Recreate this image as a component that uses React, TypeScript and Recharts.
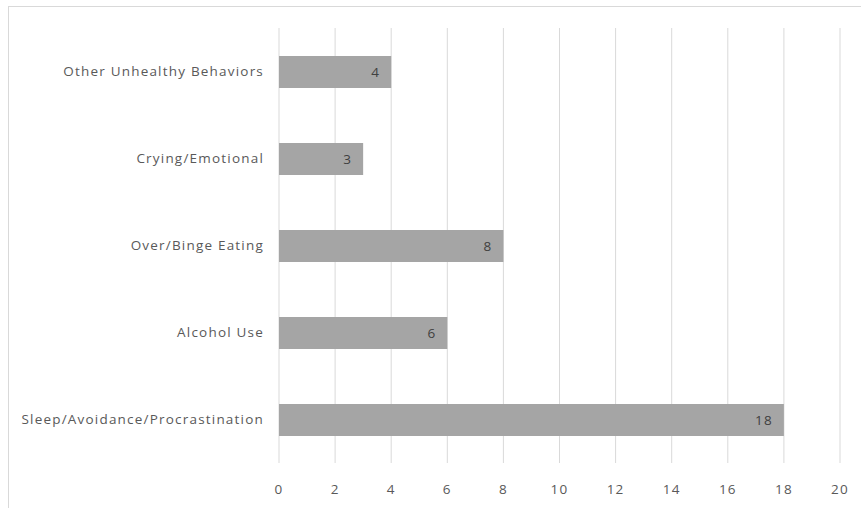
import React from "react";
import { BarChart, Bar, XAxis, YAxis, CartesianGrid, LabelList } from "recharts";

const categories = [
  "Other Unhealthy Behaviors",
  "Crying/Emotional",
  "Over/Binge Eating",
  "Alcohol Use",
  "Sleep/Avoidance/Procrastination",
];
const counts = [4, 3, 8, 6, 18];
const xTicks = [0, 2, 4, 6, 8, 10, 12, 14, 16, 18, 20];

const data = categories.map((name, i) => ({ name, value: counts[i] }));

const FONT = "'Open Sans', Lato, sans-serif";
const textStyle = { letterSpacing: "1.2px" };

export default function App() {
  return (
    <div
      style={{
        position: "absolute",
        left: 8,
        top: 6,
        width: 860,
        height: 510,
        border: "1px solid #d9d9d9",
        boxSizing: "border-box",
        background: "#fff",
        fontFamily: FONT,
      }}
    >
      <BarChart
        width={851}
        height={500}
        data={data}
        layout="vertical"
        margin={{ top: 21, right: 20, bottom: 14, left: 0 }}
      >
        <CartesianGrid horizontal={false} stroke="#d9d9d9" strokeWidth={1} />
        <XAxis
          type="number"
          domain={[0, 20]}
          ticks={xTicks}
          axisLine={false}
          tickLine={false}
          height={30}
          tickMargin={15}
          tick={{ fill: "#595959", fontSize: 13.5, fontFamily: FONT, style: textStyle }}
          interval={0}
        />
        <YAxis
          type="category"
          dataKey="name"
          width={270}
          axisLine={false}
          tickLine={false}
          tickMargin={9}
          tick={{ fill: "#595959", fontSize: 13.5, fontFamily: FONT, style: textStyle }}
          interval={0}
        />
        <Bar dataKey="value" fill="#a5a5a5" barSize={32} isAnimationActive={false}>
          <LabelList
            dataKey="value"
            position="insideRight"
            offset={11}
            fill="#404040"
            fontSize={13.5}
            fontFamily={FONT}
            style={textStyle}
          />
        </Bar>
      </BarChart>
    </div>
  );
}
